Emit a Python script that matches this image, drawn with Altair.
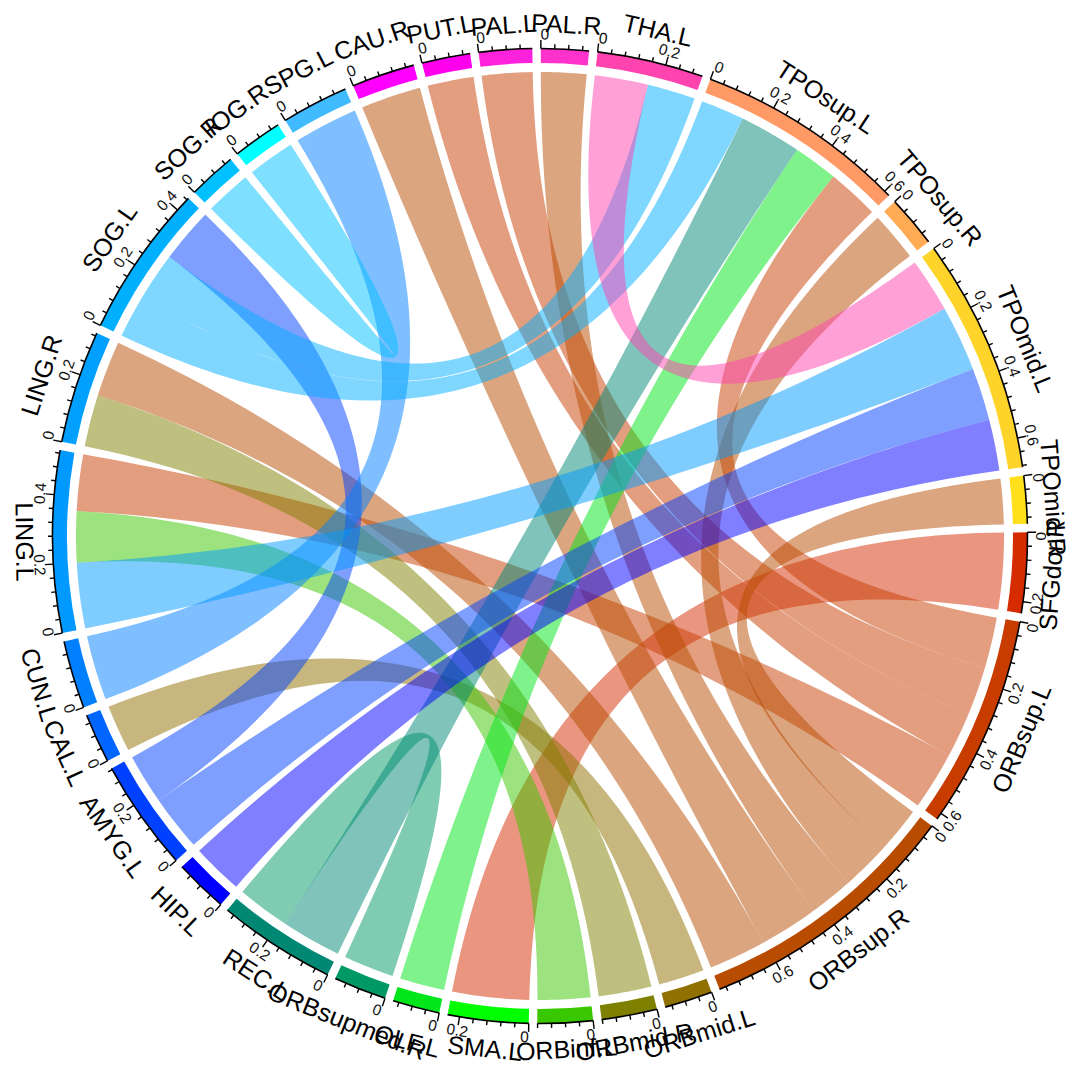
import math
import numpy as np
import altair as alt

sector_names = ["PAL.R","THA.L","TPOsup.L","TPOsup.R","TPOmid.L","TPOmid.R","SFGdor.R","ORBsup.L","ORBsup.R",
                "ORBmid.L","ORBmid.R","ORBinf.L","SMA.L","OLF.L","ORBsupmed.R","REC.L","HIP.L","AMYG.L","CAL.L",
                "CUN.L","LING.L","LING.R","SOG.L","SOG.R","IOG.R","SPG.L","CAU.R","PUT.L","PAL.L"]
sector_sizes = [.139,.31,.617,.151,.685,.139,.234,.62,.78,.14,.162,.161,.235,.137,.154,.344,.156,.324,.144,
                .198,.529,.329,.446,.141,.144,.195,.184,.141,.155]
sector_colors = ["#FF33CC","#FF44B0","#FF9966","#FFAA55","#FFD42A","#FFE01A","#D42B00","#C83C00","#B84C00",
                 "#8F7000","#808000","#39C800","#00FF00","#00E61A","#009966","#008875","#0000FF","#0040FF","#0066FF",
                 "#0080FF","#0099FF","#00A0FF","#00B0FF","#00C0FF","#00FFFF","#40BBFF","#FF00FF","#FF00EE","#FF22DD"]

link_a   = ["PAL.R","THA.L","THA.L","TPOsup.L","TPOsup.L","TPOsup.L","TPOsup.L","TPOsup.R","TPOmid.L","TPOmid.L",
            "TPOmid.L","TPOmid.R","SFGdor.R","ORBsup.L","ORBsup.L","ORBsup.L","ORBsup.R","ORBsup.R","ORBmid.L",
            "ORBmid.R","ORBinf.L","ORBsupmed.R","AMYG.L","CUN.L","SOG.R"]
link_a0  = [0,0,.163,0,.133,.322,.459,0,.166,.368,.529,0,0,.156,.305,.441,.424,.605,0,0,0,0,.171,0,0]
link_a1  = [.139,.163,.31,.133,.322,.459,.617,.151,.368,.529,.685,.139,.234,.305,.441,.62,.605,.78,.14,.162,.161,.154,.324,.198,.141]
link_b   = ["ORBsup.R","TPOmid.L","SOG.L","SOG.L","REC.L","OLF.L","ORBsup.L","ORBsup.R","LING.L","AMYG.L",
            "HIP.L","ORBsup.R","SMA.L","PAL.L","PUT.L","LING.L","CAU.R","LING.R","CAL.L",
            "LING.R","LING.L","REC.L","SOG.L","SPG.L","IOG.R"]
link_b0  = [.29,0,.134,0,0,0,0,.137,0,0,0,0,0,0,0,.356,0,.159,0,0,.2,.183,.278,0,0]
link_b1  = [.424,.166,.278,.134,.183,.137,.156,.29,.2,.171,.156,.137,.235,.155,.141,.529,.184,.329,.144,.159,.356,.344,.446,.195,.144]
link_col = ["ORBsup.R","THA.L","SOG.L","SOG.L","REC.L","OLF.L","ORBsup.L","ORBsup.R","LING.L","AMYG.L",
            "HIP.L","ORBsup.R","SFGdor.R","ORBsup.L","ORBsup.L","ORBsup.L","ORBsup.R","ORBsup.R","ORBmid.L",
            "ORBmid.R","ORBinf.L","ORBsupmed.R","AMYG.L","CUN.L","SOG.R"]

R_OUT, R_IN, R_LINK, R_TICKTXT, R_LABEL = 487.5, 473.0, 464.0, 501.5, 523.0
GAP, START = 1.0, 0.1
W, H, CX, CY = 1064, 1060, 532, 528
FS_LABEL = 25
ZERO_SHIFT = 0.45
deg_per = (360 - GAP * len(sector_sizes)) / sum(sector_sizes)

starts = {}
a = START
for n, s in zip(sector_names, sector_sizes):
    starts[n] = a
    a += s * deg_per + GAP
color_of = dict(zip(sector_names, sector_colors))
idx = {n: (i - 6) % len(sector_names) for i, n in enumerate(sector_names)}

def pt(deg, r):
    t = math.radians(deg)
    return (r * math.sin(t), r * math.cos(t))

def ribbon(a0, a1, b0, b1):
    P = []
    for d in np.linspace(a0, a1, 12): P.append(pt(d, R_LINK))
    def bez(p, q):
        return [((1-t)**2*p[0] + t*t*q[0], (1-t)**2*p[1] + t*t*q[1]) for t in np.linspace(0, 1, 70)]
    P += bez(pt(a1, R_LINK), pt(b0, R_LINK))
    for d in np.linspace(b0, b1, 12): P.append(pt(d, R_LINK))
    P += bez(pt(b1, R_LINK), pt(a0, R_LINK))
    P.append(P[0])
    return [[round(x, 2), round(y, 2)] for x, y in P]

features = []
def link_key(i):
    other = link_b[i] if link_a[i] == link_col[i] else link_a[i]
    return (idx[link_col[i]], idx[other])
for i in sorted(range(len(link_a)), key=link_key):
    A0 = starts[link_a[i]] + link_a0[i] * deg_per
    A1 = starts[link_a[i]] + link_a1[i] * deg_per
    B0 = starts[link_b[i]] + link_b0[i] * deg_per
    B1 = starts[link_b[i]] + link_b1[i] * deg_per
    features.append({"type": "Feature", "geometry": {"type": "Polygon", "coordinates": [ribbon(A0, A1, B0, B1)]},
                     "properties": {"color": color_of[link_col[i]], "name": link_a[i] + "-" + link_b[i]}})

def upright(d):
    d = d % 360
    return (d - 180) % 360 if 90 < d < 270 else d

def fit_radius(name, mid, rot):
    # pull a name inward just enough for its box to stay inside the page area
    w = 0.56 * len(name) * FS_LABEL
    h = 1.17 * FS_LABEL
    c, s = math.cos(math.radians(rot)), math.sin(math.radians(rot))
    ex = abs(c) * w / 2 + abs(s) * h / 2
    ey = abs(s) * w / 2 + abs(c) * h / 2
    r = R_LABEL
    while r > R_OUT + 22:
        x, y = pt(mid, r)
        px, py = CX + x, CY - y
        if px - ex >= 0.5 and px + ex <= W - 0.5 and py - ey >= 0.5 and py + ey <= H - 0.5:
            break
        r -= 0.5
    return r

sectors, ticks, tick_labels, labels = [], [], [], []
for n, s in zip(sector_names, sector_sizes):
    t0 = starts[n]; t1 = t0 + s * deg_per
    sectors.append({"name": n, "t0": t0, "t1": t1, "color": color_of[n]})
    mid = (t0 + t1) / 2
    rot = upright(mid)
    x, y = pt(mid, fit_radius(n, mid, rot))
    labels.append({"name": n, "x": x, "y": y, "rot": rot})
    k = 0
    while k * .04 <= s + 1e-9:
        v = k * .04
        d = t0 + v * deg_per
        major = k % 5 == 0
        ln = 8.5 if major else 4.5
        x0, y0 = pt(d, R_OUT); x1, y1 = pt(d, R_OUT + ln)
        ticks.append({"x": x0, "y": y0, "x2": x1, "y2": y1})
        if major:
            dl = d + ZERO_SHIFT if k == 0 else d
            x, y = pt(dl, R_TICKTXT)
            tick_labels.append({"txt": "0" if k == 0 else f"{v:.1f}", "x": x, "y": y, "rot": upright(dl)})
        k += 1

xs = alt.Scale(domain=[-CX, W - CX], nice=False, zero=False)
ys = alt.Scale(domain=[CY - H, CY], nice=False, zero=False)
ths = alt.Scale(domain=[0, 360], range=[0, 2 * math.pi])
cx, cy = alt.value(CX), alt.value(CY)

rib = alt.Chart(alt.Data(values=features)).mark_geoshape(fillOpacity=0.5, strokeWidth=0, stroke=None).encode(
    color=alt.Color("properties.color:N", scale=None, legend=None)
).project(type="identity", reflectY=True, scale=1, translate=[CX, CY])

track = alt.Chart(alt.Data(values=sectors)).mark_arc(radius=R_OUT, radius2=R_IN).encode(
    theta=alt.Theta("t0:Q", scale=ths), theta2="t1:Q", x=cx, y=cy,
    color=alt.Color("color:N", scale=None, legend=None))
line = alt.Chart(alt.Data(values=sectors)).mark_arc(radius=R_OUT + 0.8, radius2=R_OUT - 0.8, color="black").encode(
    theta=alt.Theta("t0:Q", scale=ths), theta2="t1:Q", x=cx, y=cy)
tick = alt.Chart(alt.Data(values=ticks)).mark_rule(color="black", strokeWidth=1.4).encode(
    x=alt.X("x:Q", scale=xs, axis=None), y=alt.Y("y:Q", scale=ys, axis=None), x2="x2:Q", y2="y2:Q")
ticktxt = alt.Chart(alt.Data(values=tick_labels)).mark_text(font="Liberation Sans", fontSize=15.5, align="center", baseline="middle", color="#111111").encode(
    x=alt.X("x:Q", scale=xs, axis=None), y=alt.Y("y:Q", scale=ys, axis=None),
    text="txt:N", angle=alt.Angle("rot:Q", scale=None))
labtxt = alt.Chart(alt.Data(values=labels)).mark_text(font="Liberation Sans", fontSize=FS_LABEL, align="center", baseline="middle", color="black").encode(
    x=alt.X("x:Q", scale=xs, axis=None), y=alt.Y("y:Q", scale=ys, axis=None),
    text="name:N", angle=alt.Angle("rot:Q", scale=None))

chart = alt.layer(rib, track, line, tick, ticktxt, labtxt).properties(
    width=W, height=H, padding=0, autosize=alt.AutoSizeParams(type="none")
).configure_view(stroke=None)

chart.save("out.html", embed_options={"renderer": "svg", "actions": False})
